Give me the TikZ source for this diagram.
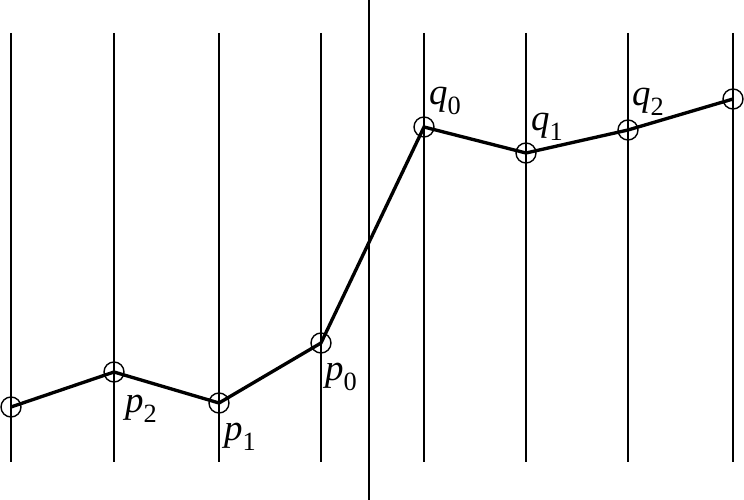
\documentclass[tikz,border=0pt]{standalone}
\usepackage{fontspec}
\setmainfont{Liberation Serif}
\usepackage{tikz}
\newcommand{\ptlab}[2]{\textit{#1}\raisebox{-0.6ex}{\fontsize{15}{15}\selectfont #2}}

\begin{document}
\begin{tikzpicture}[x=0.02cm, y=-0.02cm]
        \tikzstyle{vtx} = [draw, circle, minimum size=0.4cm, inner sep=0pt, line width=0.8pt]
        \tikzstyle{lbl} = [inner sep=0pt, font=\fontsize{21}{23}\selectfont]
        \useasboundingbox (0,0) rectangle (744,500);
        % grid lines
        \foreach \x in {11,114,219,321,424,526,628,733}
          \draw[line width=0.7pt] (\x,33) -- (\x,462);
        \draw[line width=0.7pt] (369,0) -- (369,500);
        % points
        \node[vtx] (p3) at (11,407) {};
        \node[vtx] (p2) at (114,372) {};
        \node[vtx] (p1) at (219,403) {};
        \node[vtx] (p0) at (321,343) {};
        \node[vtx] (q0) at (424,127) {};
        \node[vtx] (q1) at (526,153) {};
        \node[vtx] (q2) at (628,130) {};
        \node[vtx] (q3) at (733,99) {};
        \node[lbl] (lp2) at (141,409) {\ptlab{p}{2}};
        \node[lbl] (lp1) at (240,437) {\ptlab{p}{1}};
        \node[lbl] (lp0) at (341,377) {\ptlab{p}{0}};
        \node[lbl] (lq0) at (445,101) {\ptlab{q}{0}};
        \node[lbl] (lq1) at (547,127) {\ptlab{q}{1}};
        \node[lbl] (lq2) at (648,102) {\ptlab{q}{2}};
        \draw[line width=1.9pt] (p3.center) -- (p2.center) -- (p1.center) -- (p0.center)
          -- (q0.center) -- (q1.center) -- (q2.center) -- (q3.center);
      \end{tikzpicture}
\end{document}
